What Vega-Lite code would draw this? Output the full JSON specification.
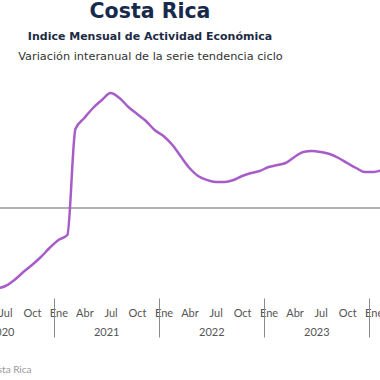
{
  "$schema": "https://vega.github.io/schema/vega-lite/v6.json",
  "width": 380,
  "height": 220,
  "autosize": {"type": "none"},
  "padding": {"left": 0, "top": 78, "right": 0, "bottom": 82},
  "title": {
    "text": "Costa Rica",
    "subtitle": "Indice Mensual de  Actividad Económica",
    "anchor": "middle",
    "frame": "group",
    "dx": -40,
    "offset": 8.5,
    "font": "DejaVu Sans",
    "fontSize": 20.5,
    "fontWeight": "bold",
    "color": "#172a4c",
    "subtitleFont": "DejaVu Sans",
    "subtitleFontSize": 11,
    "subtitleFontWeight": "bold",
    "subtitleColor": "#1d2b45",
    "subtitlePadding": 8
  },
  "config": {"view": {"stroke": null}, "font": "Lato"},
  "data": {
    "values": [
      {"fecha": "2020-05-01", "valor": -7.7},
      {"fecha": "2020-06-01", "valor": -8.0},
      {"fecha": "2020-07-01", "valor": -7.8},
      {"fecha": "2020-08-01", "valor": -7.2},
      {"fecha": "2020-09-01", "valor": -6.4},
      {"fecha": "2020-10-01", "valor": -5.7},
      {"fecha": "2020-11-01", "valor": -4.9},
      {"fecha": "2020-12-01", "valor": -4.0},
      {"fecha": "2021-01-01", "valor": -3.2},
      {"fecha": "2021-02-01", "valor": -2.7},
      {"fecha": "2021-03-01", "valor": 7.9},
      {"fecha": "2021-04-01", "valor": 9.0},
      {"fecha": "2021-05-01", "valor": 10.0},
      {"fecha": "2021-06-01", "valor": 10.8},
      {"fecha": "2021-07-01", "valor": 11.5},
      {"fecha": "2021-08-01", "valor": 11.0},
      {"fecha": "2021-09-01", "valor": 10.1},
      {"fecha": "2021-10-01", "valor": 9.4},
      {"fecha": "2021-11-01", "valor": 8.7},
      {"fecha": "2021-12-01", "valor": 7.8},
      {"fecha": "2022-01-01", "valor": 7.2},
      {"fecha": "2022-02-01", "valor": 6.3},
      {"fecha": "2022-03-01", "valor": 5.2},
      {"fecha": "2022-04-01", "valor": 4.0},
      {"fecha": "2022-05-01", "valor": 3.2},
      {"fecha": "2022-06-01", "valor": 2.8},
      {"fecha": "2022-07-01", "valor": 2.6},
      {"fecha": "2022-08-01", "valor": 2.6},
      {"fecha": "2022-09-01", "valor": 2.8},
      {"fecha": "2022-10-01", "valor": 3.2},
      {"fecha": "2022-11-01", "valor": 3.5},
      {"fecha": "2022-12-01", "valor": 3.7},
      {"fecha": "2023-01-01", "valor": 4.1},
      {"fecha": "2023-02-01", "valor": 4.3},
      {"fecha": "2023-03-01", "valor": 4.5},
      {"fecha": "2023-04-01", "valor": 5.1},
      {"fecha": "2023-05-01", "valor": 5.6},
      {"fecha": "2023-06-01", "valor": 5.7},
      {"fecha": "2023-07-01", "valor": 5.6},
      {"fecha": "2023-08-01", "valor": 5.4},
      {"fecha": "2023-09-01", "valor": 5.0},
      {"fecha": "2023-10-01", "valor": 4.5},
      {"fecha": "2023-11-01", "valor": 4.0},
      {"fecha": "2023-12-01", "valor": 3.6},
      {"fecha": "2024-01-01", "valor": 3.6},
      {"fecha": "2024-02-01", "valor": 3.8}
    ]
  },
  "resolve": {"axis": {"x": "independent"}},
  "layer": [
    {
      "data": {"values": [{"cero": 0}]},
      "mark": {"type": "rule", "color": "#999999", "strokeWidth": 1.5},
      "encoding": {
        "y": {"field": "cero", "type": "quantitative", "scale": {"domain": [-9, 13], "nice": false, "zero": false}, "axis": null}
      }
    },
    {
      "mark": {"type": "line", "color": "#a75dc8", "strokeWidth": 2.5, "interpolate": "monotone", "clip": true},
      "encoding": {
        "x": {
          "field": "fecha", "type": "temporal",
          "scale": {"type": "utc", "domain": [{"year": 2020, "month": 6, "date": 12, "utc": true}, {"year": 2024, "month": 1, "date": 23, "utc": true}]},
          "axis": {
            "orient": "bottom",
            "values": [
              {"year": 2020, "month": 7, "date": 1, "utc": true},
              {"year": 2020, "month": 10, "date": 1, "utc": true},
              {"year": 2021, "month": 1, "date": 1, "utc": true},
              {"year": 2021, "month": 4, "date": 1, "utc": true},
              {"year": 2021, "month": 7, "date": 1, "utc": true},
              {"year": 2021, "month": 10, "date": 1, "utc": true},
              {"year": 2022, "month": 1, "date": 1, "utc": true},
              {"year": 2022, "month": 4, "date": 1, "utc": true},
              {"year": 2022, "month": 7, "date": 1, "utc": true},
              {"year": 2022, "month": 10, "date": 1, "utc": true},
              {"year": 2023, "month": 1, "date": 1, "utc": true},
              {"year": 2023, "month": 4, "date": 1, "utc": true},
              {"year": 2023, "month": 7, "date": 1, "utc": true},
              {"year": 2023, "month": 10, "date": 1, "utc": true},
              {"year": 2024, "month": 1, "date": 1, "utc": true}
            ],
            "labelExpr": "['Ene','Feb','Mar','Abr','May','Jun','Jul','Ago','Sep','Oct','Nov','Dic'][utcmonth(datum.value)]",
            "domain": false, "ticks": false, "grid": false,
            "labelPadding": 9, "labelFontSize": 11, "labelColor": "#555555", "labelFont": "Lato",
            "labelOverlap": false, "labelBound": false, "labelFlush": false,
            "title": null
          }
        },
        "y": {"field": "valor", "type": "quantitative", "scale": {"domain": [-9, 13], "nice": false, "zero": false}, "axis": null}
      }
    },
    {
      "mark": {"type": "line", "opacity": 0},
      "encoding": {
        "x": {
          "field": "fecha", "type": "temporal",
          "axis": {
            "orient": "bottom",
            "values": [
              {"year": 2020, "month": 12, "date": 16, "utc": true},
              {"year": 2021, "month": 12, "date": 16, "utc": true},
              {"year": 2022, "month": 12, "date": 16, "utc": true},
              {"year": 2023, "month": 12, "date": 16, "utc": true}
            ],
            "labels": false, "domain": false, "grid": false,
            "ticks": true, "tickSize": 39, "tickColor": "#8a8a8a", "tickWidth": 1,
            "title": "Fuente: Banco Central de Costa Rica",
            "titleX": 31, "titleY": 74, "titleAlign": "right", "titleBaseline": "alphabetic",
            "titleFontSize": 10, "titleFontWeight": "normal", "titleColor": "#9a9a9a", "titleFont": "Lato"
          }
        },
        "y": {"field": "valor", "type": "quantitative", "axis": null}
      }
    },
    {
      "mark": {"type": "line", "opacity": 0},
      "encoding": {
        "x": {
          "field": "fecha", "type": "temporal",
          "axis": {
            "orient": "bottom",
            "values": [
              {"year": 2020, "month": 6, "date": 16, "utc": true},
              {"year": 2021, "month": 6, "date": 16, "utc": true},
              {"year": 2022, "month": 6, "date": 16, "utc": true},
              {"year": 2023, "month": 6, "date": 16, "utc": true}
            ],
            "labelExpr": "'' + utcyear(datum.value)",
            "domain": false, "ticks": false, "grid": false,
            "labelPadding": 28, "labelFontSize": 11, "labelColor": "#555555", "labelFont": "Lato",
            "labelOverlap": false, "labelBound": false, "labelFlush": false,
            "title": null
          }
        },
        "y": {"field": "valor", "type": "quantitative", "axis": null}
      }
    },
    {
      "mark": {"type": "line", "opacity": 0},
      "encoding": {
        "x": {
          "field": "fecha", "type": "temporal",
          "axis": {
            "orient": "top",
            "labels": false, "ticks": false, "domain": false, "grid": false,
            "title": "Variación interanual de la serie tendencia ciclo",
            "titleX": 150, "titleY": -19, "titleAlign": "center", "titleBaseline": "alphabetic",
            "titleFontSize": 11.3, "titleFontWeight": "normal", "titleColor": "#333333", "titleFont": "DejaVu Sans"
          }
        },
        "y": {"field": "valor", "type": "quantitative", "axis": null}
      }
    }
  ]
}
